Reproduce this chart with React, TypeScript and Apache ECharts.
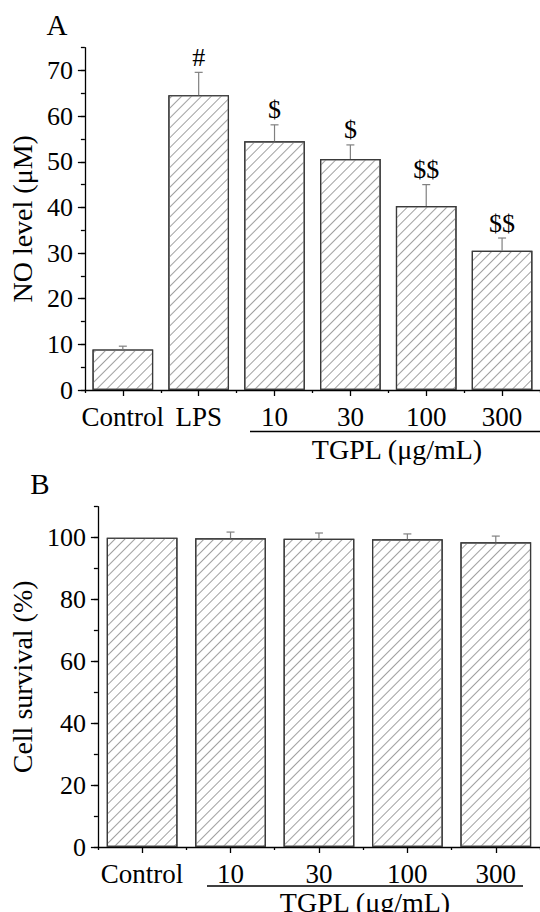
import React, { useEffect, useRef } from "react";
import * as echarts from "echarts";

const catsA = ["Control", "LPS", "10", "30", "100", "300"];
const valsA = [8.9, 64.6, 54.5, 50.6, 40.3, 30.5];
const errsA = [0.7, 5.0, 3.6, 3.1, 4.7, 2.8];
const marksA = ["", "#", "$", "$", "$$", "$$"];

const catsB = ["Control", "10", "30", "100", "300"];
const valsB = [100, 99.8, 99.6, 99.5, 98.5];
const errsB = [0, 2.0, 1.9, 1.7, 2.0];

const majorA = [0, 10, 20, 30, 40, 50, 60, 70];
const majorB = [0, 20, 40, 60, 80, 100];
const rangeA = { min: 0, max: 75, interval: 10, minor: 5 };
const rangeB = { min: 0, max: 110, interval: 20, minor: 10 };

const FONT = '"Liberation Serif", "Times New Roman", serif';

export default function App() {
  const ref = useRef<HTMLDivElement>(null);
  useEffect(() => {
    if (!ref.current) return;
    const chart = echarts.init(ref.current, null, { renderer: "svg" });

    const decal = {
      symbol: "rect",
      symbolSize: 1,
      dashArrayX: [1, 0],
      dashArrayY: [1, 5.2],
      rotation: -Math.PI / 4,
      color: "#a0a0a0",
      backgroundColor: "#ffffff",
    };

    const yMajor = (name: string, r: any, major: number[], gap: number, gridIndex: number) => ({
      type: "value",
      gridIndex,
      min: r.min,
      max: r.max,
      interval: r.interval,
      name,
      nameLocation: "middle",
      nameGap: gap,
      nameTextStyle: { fontFamily: FONT, fontSize: 28, color: "#000" },
      axisLine: { show: true, lineStyle: { color: "#000", width: 1.3 } },
      axisTick: { show: true, inside: false, length: 7, customValues: major, lineStyle: { color: "#000", width: 1.3 } },
      splitLine: { show: false },
      axisLabel: { fontFamily: FONT, fontSize: 26, color: "#000", margin: 12, customValues: major },
    });
    const yMinor = (r: any, gridIndex: number) => ({
      type: "value",
      gridIndex,
      position: "left",
      min: r.min,
      max: r.max,
      interval: r.minor,
      axisLine: { show: false },
      axisTick: { show: true, inside: false, length: 4, lineStyle: { color: "#000", width: 1.3 } },
      splitLine: { show: false },
      axisLabel: { show: false },
    });

    const xCat = (cats: string[], gridIndex: number) => ({
      type: "category",
      gridIndex,
      data: cats,
      axisLine: { show: true, lineStyle: { color: "#000", width: 1.3 } },
      axisTick: { show: true, alignWithLabel: false, length: 3, lineStyle: { color: "#000", width: 1.3 } },
      axisLabel: { fontFamily: FONT, fontSize: 27, color: "#000", margin: 13, interval: 0 },
    });
    const xCenter = (cats: string[], gridIndex: number) => ({
      type: "category",
      gridIndex,
      data: cats,
      position: "bottom",
      axisLine: { show: false },
      axisTick: { show: true, alignWithLabel: true, length: 6, lineStyle: { color: "#000", width: 1.3 } },
      axisLabel: { show: false },
    });

    const errRender = (marks: string[] | null) => (params: any, api: any) => {
      const x = api.value(0);
      const v = api.value(1);
      const e = api.value(2);
      const base = api.coord([x, v]);
      const top = api.coord([x, v + e]);
      const children: any[] = [];
      if (e > 0) {
        children.push({
          type: "line",
          shape: { x1: base[0], y1: base[1], x2: top[0], y2: top[1] },
          style: { stroke: "#808080", lineWidth: 1.2 },
        });
        children.push({
          type: "line",
          shape: { x1: top[0] - 4, y1: top[1], x2: top[0] + 4, y2: top[1] },
          style: { stroke: "#808080", lineWidth: 1.2 },
        });
      }
      const m = marks ? marks[params.dataIndex] : "";
      if (m) {
        children.push({
          type: "text",
          x: top[0],
          y: top[1] - 2,
          style: {
            text: m,
            fontFamily: FONT,
            fontSize: 26,
            fill: "#000",
            align: "center",
            verticalAlign: "bottom",
          },
        });
      }
      return { type: "group", children };
    };

    chart.setOption({
      animation: false,
      backgroundColor: "#ffffff",
      grid: [
        { left: 82, right: -7.6, top: 47.7, height: 342.3 },
        { left: 81, right: -6, top: 506.7, height: 340.3 },
      ],
      xAxis: [xCat(catsA, 0), xCenter(catsA, 0), xCat(catsB, 1), xCenter(catsB, 1)],
      yAxis: [
        yMajor("NO level (μM)", rangeA, majorA, 41, 0),
        yMinor(rangeA, 0),
        yMajor("Cell survival (%)", rangeB, majorB, 54, 1),
        yMinor(rangeB, 1),
      ],
      series: [
        {
          type: "bar",
          xAxisIndex: 0,
          yAxisIndex: 0,
          data: valsA,
          barWidth: "80%",
          itemStyle: { color: "#ffffff", borderColor: "#3a3a3a", borderWidth: 1.2, decal },
        },
        {
          type: "custom",
          xAxisIndex: 0,
          yAxisIndex: 0,
          data: catsA.map((_, i) => [i, valsA[i], errsA[i]]),
          encode: { x: 0, y: 1 },
          renderItem: errRender(marksA),
          z: 5,
        },
        {
          type: "bar",
          xAxisIndex: 2,
          yAxisIndex: 2,
          data: valsB,
          barWidth: "80%",
          itemStyle: { color: "#ffffff", borderColor: "#3a3a3a", borderWidth: 1.2, decal },
        },
        {
          type: "custom",
          xAxisIndex: 2,
          yAxisIndex: 2,
          data: catsB.map((_, i) => [i, valsB[i], errsB[i]]),
          encode: { x: 0, y: 1 },
          renderItem: errRender(null),
          z: 5,
        },
      ],
      graphic: [
        { type: "text", x: 57, y: 25, style: { text: "A", fontFamily: FONT, fontSize: 29, fill: "#000", align: "center", verticalAlign: "middle" } },
        { type: "text", x: 40, y: 484, style: { text: "B", fontFamily: FONT, fontSize: 29, fill: "#000", align: "center", verticalAlign: "middle" } },
        { type: "line", shape: { x1: 250, y1: 431.5, x2: 540, y2: 431.5 }, style: { stroke: "#000", lineWidth: 1.3 } },
        { type: "text", x: 397, y: 449, style: { text: "TGPL (μg/mL)", fontFamily: FONT, fontSize: 28, fill: "#000", align: "center", verticalAlign: "middle" } },
        { type: "line", shape: { x1: 207, y1: 886, x2: 523, y2: 886 }, style: { stroke: "#000", lineWidth: 1.3 } },
        { type: "text", x: 365, y: 902, style: { text: "TGPL (μg/mL)", fontFamily: FONT, fontSize: 28, fill: "#000", align: "center", verticalAlign: "middle" } },
      ],
    });
    return () => chart.dispose();
  }, []);
  return (
    <div
      ref={ref}
      style={{ position: "fixed", left: 0, top: 0, width: 540, height: 912, background: "#fff" }}
    />
  );
}
